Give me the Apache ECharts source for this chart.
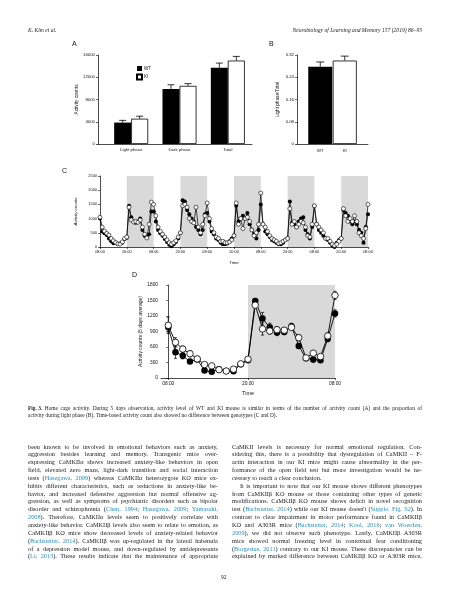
<!DOCTYPE html>
<html><head><meta charset="utf-8">
<script src="https://cdn.jsdelivr.net/npm/echarts@6/dist/echarts.min.js"></script>
<style>
html,body{margin:0;padding:0;background:#fff;}
#page{position:relative;width:450px;height:600px;overflow:hidden;font-family:"Liberation Serif","Times New Roman",serif;color:#1c1c1c;}
#chart{position:absolute;left:0;top:0;width:450px;height:600px;}
.ln{position:absolute;display:flex;justify-content:space-between;white-space:nowrap;font-size:6.3px;line-height:7px;height:7px;}
.ln.last{justify-content:flex-start;}
.ln.last span.w{margin-right:1.7px}
.cap{font-size:5.4px;line-height:6px;height:6px;}
.cap.last span.w{margin-right:1.4px}
.cite{color:#2b8db3}
.hdr{position:absolute;font-style:italic;font-size:5.6px;line-height:6px;white-space:nowrap;}
</style></head>
<body>
<div id="page">
  <div id="chart"></div>
</div>
<script>
// ---------- data ----------
const catsA = ['Light phase', 'Dark phase', 'Total'];
const wtA = [3850, 9900, 13700];
const wtAErr = [400, 750, 850];
const kiA = [4550, 10450, 15000];
const kiAErr = [450, 400, 750];

const catsB = ['WT', 'KI'];
const valB = [0.278, 0.300];
const errB = [0.017, 0.016];

const timeLabels = ['08:00', '20:00'];
const nDays = 5;

const wtC = [
  1000, 550, 480, 420, 300, 200, 130, 150, 100, 120, 150, 280,
  330, 1450, 1050, 900, 850, 900, 1000, 600, 400, 350, 450, 1250,
  1250, 900, 600, 480, 400, 280, 180, 80, 30, 100, 180, 300,
  500, 1650, 1600, 1300, 1150, 1000, 900, 700, 600, 450, 600, 1150,
  1200, 900, 550, 450, 300, 250, 150, 100, 100, 120, 200, 300,
  400, 1450, 900, 1000, 1100, 1000, 1200, 800, 600, 450, 300, 600,
  1500, 800, 550, 450, 350, 250, 200, 150, 100, 100, 150, 250,
  300, 1600, 850, 800, 700, 900, 1000, 1050, 600, 450, 300, 700,
  1450, 800, 600, 500, 400, 300, 250, 150, 50, 0, 150, 250,
  300, 1300, 1200, 1100, 900, 800, 900, 800, 600, 500, 150, 700,
  1150
];
const kiC = [
  1050, 700, 560, 480, 420, 300, 220, 160, 110, 100, 180, 300,
  350, 1400, 950, 880, 900, 870, 950, 700, 450, 320, 800, 1580,
  1500, 1100, 700, 550, 450, 350, 250, 150, 100, 150, 220, 350,
  500, 1450, 1500, 1400, 1000, 900, 850, 1400, 700, 500, 800, 1100,
  1550, 1000, 650, 500, 350, 300, 200, 200, 150, 150, 180, 250,
  400, 1550, 800, 1000, 650, 1000, 1050, 900, 600, 400, 500, 800,
  1900, 800, 700, 550, 400, 300, 250, 200, 120, 150, 200, 250,
  300, 1350, 800, 900, 700, 800, 900, 850, 700, 400, 350, 800,
  1450, 800, 700, 600, 500, 300, 300, 200, 100, 50, 100, 200,
  300, 1350, 1100, 900, 1000, 900, 1100, 900, 500, 400, 300, 650,
  1500
];

const labelsD = ['08:00', '20:00', '08:00'];
const labelPosD = [0, 11, 23];
const wtD = [980, 500, 430, 320, 360, 145, 120, 170, 135, 130, 265, 345,
             1490, 1150, 980, 880, 890, 1000, 620, 380, 360, 345, 760, 1250];
const wtDErr = [90, 120, 60, 40, 40, 40, 30, 30, 30, 30, 30, 40,
                50, 120, 80, 60, 50, 60, 50, 40, 50, 40, 60, 70];
const kiD = [1020, 690, 560, 470, 370, 260, 235, 160, 135, 170, 275, 365,
             1410, 950, 910, 935, 925, 980, 780, 390, 480, 415, 815, 1600];
const kiDErr = [160, 90, 60, 60, 50, 40, 30, 30, 30, 40, 40, 40,
                60, 120, 60, 60, 50, 50, 60, 40, 40, 40, 60, 80];

// ---------- text ----------
const headerLeft = 'K. Kim et al.';
const headerRight = 'Neurobiology of Learning and Memory 157 (2019) 86–95';
const captionLead = 'Fig. 3.';
const captionLines = [
  'Home cage activity. During 5 days observation, activity level of WT and KI mouse is similar in terms of the number of activity count (A) and the proportion of',
  'activity during light phase (B). Time-based activity count also showed no difference between genotypes (C and D).'
];
const leftCol = [
  'been known to be involved in emotional behaviors such as anxiety,',
  'aggression besides learning and memory. Transgenic mice over-',
  'expressing CaMKIIα shows increased anxiety-like behaviors in open',
  'field, elevated zero maze, light-dark transition and social interaction',
  'tests ({Hasegawa, 2009}) whereas CaMKIIα heterozygote KO mice ex-',
  'hibits different characteristics, such as reductions in anxiety-like be-',
  'havior, and increased defensive aggression but normal offensive ag-',
  'gression, as well as symptoms of psychiatric disorders such as bipolar',
  'disorder and schizophrenia ({Chen, 1994}; {Hasegawa, 2009}; {Yamasaki,',
  '2008}). Therefore, CaMKIIα levels seem to positively correlate with',
  'anxiety-like behavior. CaMKIIβ levels also seem to relate to emotion, as',
  'CaMKIIβ KO mice show decreased levels of anxiety-related behavior',
  '({Bachstetter, 2014}). CaMKIIβ was up-regulated in the lateral habenula',
  'of a depression model mouse, and down-regulated by antidepressants',
  '({Li, 2013}). These results indicate that the maintenance of appropriate'
];
const rightCol = [
  'CaMKII levels is necessary for normal emotional regulation. Con-',
  'sidering this, there is a possibility that dysregulation of CaMKII – F-',
  'actin interaction in our KI mice might cause abnormality in the per-',
  'formance of the open field test but more investigation would be ne-',
  'cessary to reach a clear conclusion.',
  'It is important to note that our KI mouse shows different phenotypes',
  'from CaMKIIβ KO mouse or those containing other types of genetic',
  'modifications. CaMKIIβ KO mouse shows deficit in novel recognition',
  'test ({Bachstetter, 2014}) while our KI mouse doesn\'t ({Supple. Fig. S2}). In',
  'contrast to clear impairment in motor performance found in CaMKIIβ',
  'KO and A303R mice ({Bachstetter, 2014}; {Kool, 2016}; {van Woerden,',
  '2009}), we did not observe such phenotype. Lastly, CaMKIIβ A303R',
  'mice showed normal freezing level in contextual fear conditioning',
  '({Borgesius, 2011}) contrary to our KI mouse. These discrepancies can be',
  'explained by marked difference between CaMKIIβ KO or A303R mice,'
];
const rightLast = [4];
const rightIndent = [5];
const pageNumber = '92';

// ---------- build text ----------
const page = document.getElementById('page');
function addDiv(cls, html, style) {
  const d = document.createElement('div');
  d.className = cls; d.innerHTML = html; Object.assign(d.style, style); page.appendChild(d);
  return d;
}
addDiv('hdr', headerLeft, {left: '28px', top: '27px'});
addDiv('hdr', headerRight, {right: '28px', top: '27px'});
addDiv('hdr', pageNumber, {left: '221px', top: '574px', fontStyle: 'normal'});

function lineHTML(text, state) {
  return text.split(' ').map(w => {
    let out = '', buf = '';
    for (const ch of w) {
      if (ch === '{' || ch === '}') {
        if (buf) out += state.cite ? '<span class="cite">' + buf + '</span>' : buf;
        buf = ''; state.cite = (ch === '{');
      } else buf += ch;
    }
    if (buf) out += state.cite ? '<span class="cite">' + buf + '</span>' : buf;
    return '<span class="w">' + out + '</span>';
  }).join('');
}
function column(lines, x, y0, dy, lastIdx, indentIdx) {
  const st = {cite: false};
  lines.forEach((t, i) => {
    const isLast = lastIdx.includes(i);
    const ind = indentIdx.includes(i) ? 8 : 0;
    addDiv('ln' + (isLast ? ' last' : ''), lineHTML(t, st),
      {left: (x + ind) + 'px', top: (y0 + i * dy - 3.5) + 'px', width: (190 - ind) + 'px'});
  });
}
column(leftCol, 28, 446, 7.85, [], []);
column(rightCol, 232, 446, 7.85, rightLast, rightIndent);
captionLines.forEach((t, i) => {
  let html = t.split(' ').map(w => '<span class="w">' + w + '</span>').join('');
  if (i === 0) html = '<span class="w"><b>' + captionLead + '</b></span>' + html;
  addDiv('ln cap' + (i === captionLines.length - 1 ? ' last' : ''), html,
    {left: '28px', top: (408 + i * 7 - 3) + 'px', width: '394px'});
});

// ---------- chart ----------
const chart = echarts.init(document.getElementById('chart'), null, {renderer: 'canvas', width: 450, height: 600});
const F = '"Liberation Sans", Arial, sans-serif';
const plain = v => String(v);
function axisBase(fs) {
  return {
    axisLine: {show: true, lineStyle: {color: '#000', width: 0.7}},
    axisTick: {show: true, length: 2, lineStyle: {color: '#000', width: 0.6}},
    axisLabel: {fontSize: fs, color: '#111', fontFamily: F, margin: 3, formatter: plain},
    splitLine: {show: false},
    nameTextStyle: {fontSize: fs + 0.4, color: '#111', fontFamily: F}
  };
}
function errBars(offset, capHalf, both, lw) {
  return function (params, api) {
    const x = api.value(0), v = api.value(1), e = api.value(2);
    const pTop = api.coord([x, v + e]);
    const pBot = api.coord([x, both ? v - e : v]);
    const cx = pTop[0] + offset;
    const st = {stroke: '#000', lineWidth: lw};
    const kids = [
      {type: 'line', shape: {x1: cx, y1: pBot[1], x2: cx, y2: pTop[1]}, style: st},
      {type: 'line', shape: {x1: cx - capHalf, y1: pTop[1], x2: cx + capHalf, y2: pTop[1]}, style: st}
    ];
    if (both) kids.push({type: 'line', shape: {x1: cx - capHalf, y1: pBot[1], x2: cx + capHalf, y2: pBot[1]}, style: st});
    return {type: 'group', children: kids};
  };
}
const darkBands = [];
for (let d = 0; d < nDays; d++) darkBands.push([{xAxis: 24 * d + 12}, {xAxis: 24 * d + 24}]);

const frameX = (gi) => Object.assign(axisBase(4), {type: 'category', gridIndex: gi, data: [''],
  axisTick: {show: false}, axisLabel: {show: false}});
const hiddenY = (gi, max) => ({type: 'value', gridIndex: gi, min: 0, max: max, show: false});

const option = {
  animation: false,
  textStyle: {fontFamily: F},
  grid: [
    {left: 98, top: 55, width: 154, height: 89},
    {left: 107, top: 55, width: 145, height: 89},
    {left: 297, top: 55, width: 71, height: 89},
    {left: 308, top: 55, width: 49, height: 89},
    {left: 100, top: 176, width: 268, height: 71},
    {left: 161, top: 285, width: 174, height: 93}
  ],
  legend: {
    data: ['WT', 'KI'], orient: 'vertical', left: 131, top: 61,
    itemWidth: 5, itemHeight: 5, itemGap: 2.5, icon: 'rect',
    textStyle: {fontSize: 4.5, color: '#111', padding: [0, 0, 0, -3]}
  },
  graphic: [
    {type: 'text', x: 72, y: 41, style: {text: 'A', fontSize: 7, fontFamily: F, fill: '#111'}},
    {type: 'text', x: 269, y: 41, style: {text: 'B', fontSize: 7, fontFamily: F, fill: '#111'}},
    {type: 'text', x: 62, y: 168, style: {text: 'C', fontSize: 7, fontFamily: F, fill: '#111'}},
    {type: 'text', x: 132, y: 272, style: {text: 'D', fontSize: 7, fontFamily: F, fill: '#111'}}
  ],
  xAxis: [
    frameX(0),
    Object.assign(axisBase(4.3), {type: 'category', gridIndex: 1, data: catsA,
      axisLine: {show: false}, axisTick: {show: false}, axisLabel: {fontSize: 4.3, color: '#111', margin: 4}}),
    frameX(2),
    Object.assign(axisBase(4.3), {type: 'category', gridIndex: 3, data: catsB,
      axisLine: {show: false}, axisTick: {show: false}, axisLabel: {fontSize: 4.3, color: '#111', margin: 5}}),
    Object.assign(axisBase(3.9), {type: 'value', gridIndex: 4, min: 0, max: 24 * nDays, interval: 12,
      name: 'Time', nameLocation: 'middle', nameGap: 14,
      axisLabel: {fontSize: 3.9, color: '#111', margin: 2.5, formatter: v => timeLabels[(v / 12) % 2]}}),
    Object.assign(axisBase(5), {type: 'value', gridIndex: 5, min: -1, max: 23,
      name: 'Time', nameLocation: 'middle', nameGap: 13,
      axisTick: {show: true, length: 2, customValues: labelPosD, lineStyle: {color: '#000', width: 0.6}},
      axisLabel: {fontSize: 4.8, color: '#111', margin: 3, customValues: labelPosD,
        formatter: v => labelsD[labelPosD.indexOf(v)]}})
  ],
  yAxis: [
    Object.assign(axisBase(4.3), {type: 'value', gridIndex: 0, min: 0, max: 16000, interval: 4000,
      name: 'Activity counts', nameLocation: 'middle', nameGap: 14}),
    hiddenY(1, 16000),
    Object.assign(axisBase(4.3), {type: 'value', gridIndex: 2, min: 0, max: 0.32, interval: 0.08,
      name: 'Light phase/Total', nameLocation: 'middle', nameGap: 17,
      axisLabel: {fontSize: 4.3, color: '#111', margin: 3, formatter: v => v === 0 ? '0' : v.toFixed(2)}}),
    hiddenY(3, 0.32),
    Object.assign(axisBase(3.9), {type: 'value', gridIndex: 4, min: 0, max: 2500, interval: 500,
      name: 'Activity counts', nameLocation: 'middle', nameGap: 16,
      nameTextStyle: {fontSize: 4.4, fontStyle: 'italic', color: '#111'}}),
    Object.assign(axisBase(4.8), {type: 'value', gridIndex: 5, min: 0, max: 1800, interval: 300,
      name: 'Activity counts (5 days average)', nameLocation: 'middle', nameGap: 18,
      nameTextStyle: {fontSize: 5, color: '#111'}})
  ],
  series: [
    {name: 'WT', type: 'bar', xAxisIndex: 1, yAxisIndex: 1, data: wtA, barWidth: 17, barGap: '0%',
      itemStyle: {color: '#000'}},
    {name: 'KI', type: 'bar', xAxisIndex: 1, yAxisIndex: 1, data: kiA, barWidth: 17, barGap: '0%',
      itemStyle: {color: '#fff', borderColor: '#000', borderWidth: 0.8}},
    {name: 'errA-WT', type: 'custom', xAxisIndex: 1, yAxisIndex: 1, renderItem: errBars(-8.5, 3.5, false, 0.8),
      data: wtA.map((v, i) => [i, v, wtAErr[i]])},
    {name: 'errA-KI', type: 'custom', xAxisIndex: 1, yAxisIndex: 1, renderItem: errBars(8.5, 3.5, false, 0.8),
      data: kiA.map((v, i) => [i, v, kiAErr[i]])},
    {name: 'ratio', type: 'bar', xAxisIndex: 3, yAxisIndex: 3, barWidth: 24,
      data: valB.map((v, i) => ({value: v, itemStyle: i === 0 ? {color: '#000'} : {color: '#fff', borderColor: '#000', borderWidth: 0.8}}))},
    {name: 'errB', type: 'custom', xAxisIndex: 3, yAxisIndex: 3, renderItem: errBars(0, 4, false, 0.8),
      data: valB.map((v, i) => [i, v, errB[i]])},
    {name: 'WT-C', type: 'line', xAxisIndex: 4, yAxisIndex: 4, data: wtC.map((v, i) => [i, v]),
      symbol: 'circle', symbolSize: 4, showAllSymbol: true, z: 3,
      lineStyle: {color: '#000', width: 0.7}, itemStyle: {color: '#000'},
      markArea: {silent: true, itemStyle: {color: '#d9d9d9'}, data: darkBands}},
    {name: 'KI-C', type: 'line', xAxisIndex: 4, yAxisIndex: 4, data: kiC.map((v, i) => [i, v]),
      symbol: 'circle', symbolSize: 4, showAllSymbol: true, z: 4,
      lineStyle: {color: '#000', width: 0.7}, itemStyle: {color: '#fff', borderColor: '#000', borderWidth: 0.6}},
    {name: 'errD-WT', type: 'custom', xAxisIndex: 5, yAxisIndex: 5, renderItem: errBars(0, 1.6, true, 0.7), z: 2,
      data: wtD.map((v, i) => [i, v, wtDErr[i]])},
    {name: 'errD-KI', type: 'custom', xAxisIndex: 5, yAxisIndex: 5, renderItem: errBars(0, 1.6, true, 0.7), z: 2,
      data: kiD.map((v, i) => [i, v, kiDErr[i]])},
    {name: 'WT-D', type: 'line', xAxisIndex: 5, yAxisIndex: 5, data: wtD.map((v, i) => [i, v]),
      symbol: 'circle', symbolSize: 6.5, showAllSymbol: true, z: 3,
      lineStyle: {color: '#000', width: 0.9}, itemStyle: {color: '#000'},
      markArea: {silent: true, itemStyle: {color: '#d9d9d9'}, data: [[{xAxis: labelPosD[1]}, {xAxis: labelPosD[2]}]]}},
    {name: 'KI-D', type: 'line', xAxisIndex: 5, yAxisIndex: 5, data: kiD.map((v, i) => [i, v]),
      symbol: 'circle', symbolSize: 6.5, showAllSymbol: true, z: 4,
      lineStyle: {color: '#000', width: 0.9}, itemStyle: {color: '#fff', borderColor: '#000', borderWidth: 0.8}}
  ]
};
chart.setOption(option);
</script>
</body></html>
